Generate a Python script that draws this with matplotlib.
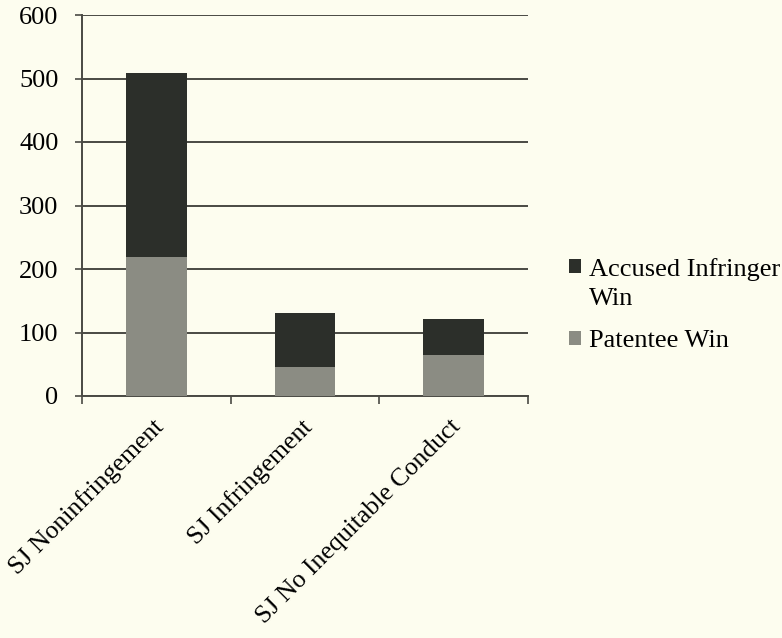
import matplotlib
matplotlib.use("Agg")
import matplotlib.pyplot as plt
import matplotlib.transforms as mtransforms
from matplotlib.patches import Patch
import numpy as np

categories = ["SJ Noninfringement", "SJ Infringement", "SJ No Inequitable Conduct"]
patentee_win = [219, 45, 65]
accused_win = [290, 86, 56]
y_ticks = [0, 100, 200, 300, 400, 500, 600]

bg = "#fdfdef"
dark = "#2c2f2a"
light = "#8b8c83"
grid = "#4a4a44"

plt.rcParams["font.family"] = ["Liberation Serif", "DejaVu Serif"]

fig = plt.figure(figsize=(7.82, 6.38), dpi=100, facecolor=bg)
ax = fig.add_axes([82 / 782, 1 - 396 / 638, (528 - 82) / 782, (396 - 15) / 638])
ax.set_facecolor(bg)

x = np.arange(len(categories))
width = 0.41
ax.bar(x, patentee_win, width, color=light, zorder=3)
ax.bar(x, accused_win, width, bottom=patentee_win, color=dark, zorder=3)

ax.set_ylim(0, 600)
ax.set_xlim(-0.5, len(categories) - 0.5)
ax.set_yticks(y_ticks)
ax.set_yticklabels([str(v) for v in y_ticks], fontsize=19)
ax.yaxis.grid(True, color=grid, linewidth=1.4, zorder=0)
ax.tick_params(axis="y", length=5, width=1.2, color=grid, pad=12)

ax.set_xticks(x)
ax.set_xticklabels(categories, rotation=45, ha="right", va="top",
                   rotation_mode="anchor", fontsize=18.5)
ax.tick_params(axis="x", length=0, pad=14)
shift = mtransforms.ScaledTranslation(-4 / 100, 0, fig.dpi_scale_trans)
for lab in ax.get_xticklabels():
    lab.set_transform(lab.get_transform() + shift)
ax.set_xticks(np.arange(len(categories) + 1) - 0.5, minor=True)
ax.tick_params(axis="x", which="minor", length=6, width=1.2, color=grid)

for side in ["top", "right"]:
    ax.spines[side].set_visible(False)
for side in ["left", "bottom"]:
    ax.spines[side].set_color(grid)
    ax.spines[side].set_linewidth(1.4)

fs = 19
handles = [Patch(facecolor=dark, edgecolor="none"),
           Patch(facecolor=light, edgecolor="none")]
labels = ["Accused Infringer\nWin", "Patentee Win"]
leg = fig.legend(handles, labels, loc="upper left",
                 bbox_to_anchor=(569 / 782, 1 - 258 / 638),
                 frameon=False, fontsize=fs, borderpad=0, borderaxespad=0,
                 handlelength=0.45, handleheight=0.45, handletextpad=0.3,
                 labelspacing=0.75)
for t in leg.get_texts():
    t.set_linespacing(1.43)
# keep the marker of the two-line entry level with its first line
first = leg.legend_handles[0]
first.set_y(first.get_y() + 12.5)

fig.savefig("out.png", dpi=100, facecolor=bg)
